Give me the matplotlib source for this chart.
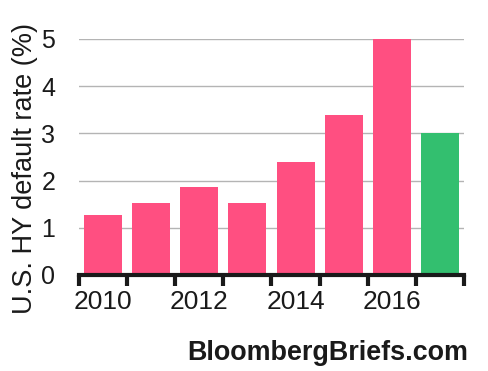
import matplotlib.pyplot as plt
import numpy as np

years = [2010, 2011, 2012, 2013, 2014, 2015, 2016, 2017]
rates = [1.27, 1.52, 1.87, 1.52, 2.39, 3.39, 5.0, 3.0]
colors = ['#ff4f81'] * 7 + ['#33bf6f']
tick_years = [2010, 2012, 2014, 2016]

plt.rcParams['font.family'] = ['Liberation Sans', 'DejaVu Sans']

fig = plt.figure(figsize=(4.89, 3.71), dpi=100)
ax = fig.add_axes([79/489, 1-275/371, 385/489, 236/371])

x = np.arange(len(years))
ax.bar(x, rates, width=0.79, color=colors, zorder=2)

ax.set_xlim(-0.5, len(years) - 0.5)
ax.set_ylim(0, 5)
for v in [1, 2, 3, 4, 5]:
    ax.axhline(v, color='#b4b4b4', linewidth=1.0, zorder=1)

ax.set_yticks([0, 1, 2, 3, 4, 5])
ax.tick_params(axis='y', length=0, labelsize=18, pad=17, labelcolor='#1a1a1a')

# year labels under bar centres, tick marks on slot boundaries
ax.set_xticks([years.index(y) for y in tick_years])
ax.set_xticklabels([str(y) for y in tick_years])
ax.tick_params(axis='x', which='major', length=0, labelsize=19, pad=11, labelcolor='#1a1a1a')
ax.set_xticks(np.arange(-0.5, len(years)), minor=True)
ax.tick_params(axis='x', which='minor', length=8, width=3, color='#1a1a1a')

for s in ['left', 'right', 'top']:
    ax.spines[s].set_visible(False)
ax.spines['bottom'].set_linewidth(3)
ax.spines['bottom'].set_color('#1a1a1a')
ax.spines['bottom'].set_zorder(3)

fig.text(25/489, 1-169/371, 'U.S. HY default rate (%)', rotation=90,
         ha='center', va='center', fontsize=19.5, color='#1a1a1a')

fig.text(468/489, 1-353/371, 'BloombergBriefs.com', ha='right', va='center',
         fontsize=19.4, fontweight='bold', color='#1a1a1a')

fig.savefig('out.png', dpi=100)
